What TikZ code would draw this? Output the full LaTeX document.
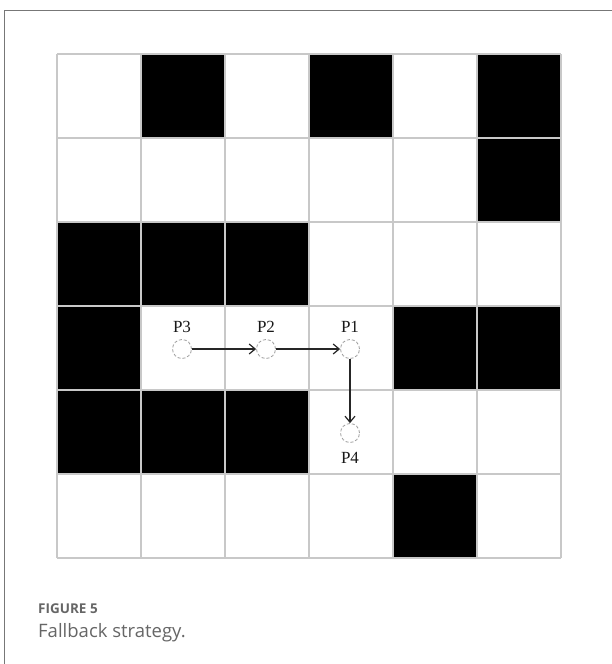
\documentclass[tikz,border=0pt]{standalone}
\usepackage{fontspec}
\setmainfont{Liberation Serif}
\newfontfamily\capfont{Open Sans}
\usetikzlibrary{arrows.meta}
\definecolor{gridc}{HTML}{C8C8C8}
\definecolor{capc}{HTML}{666666}
\definecolor{framec}{HTML}{777777}
\tikzset{
  cellblack/.style={fill=black, draw=none},
  pt/.style={circle, draw=gray!75, densely dashed, line width=0.8pt, minimum size=19pt, inner sep=0pt, fill=white},
  lbl/.style={font=\fontsize{17}{17}\selectfont, text=black!90, inner sep=0pt},
  move/.style={draw=black!85, line width=1.2pt, -{Straight Barb[length=6pt,width=10pt]}},
}
\begin{document}
\begin{tikzpicture}[x=1pt,y=-1pt]
\useasboundingbox (0,0) rectangle (612,664);
\fill[white] (0,0) rectangle (612,664);
% frame (only top and left visible)
\draw[framec, line width=1pt] (4.5,664) -- (4.5,10) -- (612,10);
% black cells
\foreach \c/\r in {1/0,3/0,5/0,5/1,0/2,1/2,2/2,0/3,4/3,5/3,0/4,1/4,2/4,4/5}
  \fill[cellblack] ({57+84*\c},{54+84*\r}) rectangle ++(84,84);
% grid
\foreach \i in {0,...,6} {
  \draw[gridc, line width=1.2pt] ({57+84*\i},54) -- ({57+84*\i},558);
  \draw[gridc, line width=1.2pt] (57,{54+84*\i}) -- (561,{54+84*\i});
}
% points
\node[pt] (p3) at (182,349) {};
\node[pt] (p2) at (266,349) {};
\node[pt] (p1) at (350,349) {};
\node[pt] (p4) at (350,433) {};
\node[lbl, anchor=base] (l3) at (182,332) {P3};
\node[lbl, anchor=base] (l2) at (266,332) {P2};
\node[lbl, anchor=base] (l1) at (350,332) {P1};
\node[lbl, anchor=base] (l4) at (350,463) {P4};
\draw[move] (p3) -- (p2);
\draw[move] (p2) -- (p1);
\draw[move] (p1) -- (p4);
% caption
\node[anchor=base west, inner sep=0pt, text=capc, font=\capfont\bfseries\fontsize{13.5}{13.5}\selectfont] (fig) at (38,613) {FIGURE 5};
\node[anchor=base west, inner sep=0pt, text=capc, font=\capfont\fontsize{18.5}{18.5}\selectfont] (cap) at (38,637) {Fallback strategy.};
\end{tikzpicture}
\end{document}
